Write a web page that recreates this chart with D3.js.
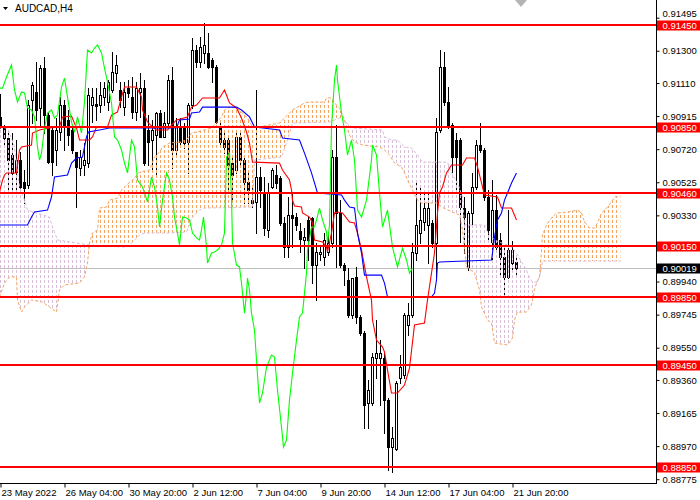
<!DOCTYPE html>
<html><head><meta charset="utf-8">
<script src="https://cdn.jsdelivr.net/npm/d3@7"></script>
<style>
html,body{margin:0;padding:0;background:#fff;}
svg{display:block;}
</style></head><body>
<svg id="c" width="700" height="500"></svg>
<script>
const chartTitle = "AUDCAD,H4";
const openP = [0.90910,0.90851,0.90786,0.90686,0.90585,0.90656,0.90527,0.90509,0.91010,0.91057,
0.90963,0.91198,0.90921,0.90833,0.90715,0.90821,0.90980,0.90892,0.90833,0.90703,
0.90609,0.90627,0.90638,0.90980,0.90986,0.90980,0.91027,0.90998,0.91069,0.91169,
0.91069,0.90968,0.91080,0.91027,0.90939,0.91057,0.91080,0.90833,0.90774,0.90803,
0.90933,0.90792,0.90874,0.91128,0.90715,0.90851,0.90845,0.90762,0.90980,0.91304,
0.91234,0.91287,0.91287,0.91245,0.91204,0.90851,0.90774,0.90774,0.90638,0.90597,
0.90792,0.90656,0.90527,0.90420,0.90409,0.90556,0.90462,0.90244,0.90497,0.90568,
0.90550,0.90285,0.90143,0.90332,0.90320,0.90238,0.90185,0.90303,0.90314,0.90037,
0.90102,0.90085,0.90114,0.90167,0.90674,0.90344,0.90037,0.89949,0.89743,0.89967,
0.89731,0.89637,0.89224,0.89224,0.89489,0.89489,0.89489,0.89242,0.88965,0.88953,
0.89371,0.89389,0.89684,0.89743,0.90108,0.90226,0.90291,0.90273,0.90285,0.90167,
0.90833,0.91204,0.90998,0.90862,0.90774,0.90774,0.90373,0.90026,0.90344,0.90497,
0.90745,0.90715,0.90438,0.90173,0.90361,0.90185,0.90085,0.89967,0.90049,0.90055];
const highP = [0.91045,0.90862,0.90833,0.90815,0.90774,0.90703,0.90597,0.91010,0.91116,0.91234,
0.91216,0.91263,0.90933,0.90845,0.90904,0.91027,0.91010,0.90951,0.90851,0.90703,
0.90715,0.90756,0.91080,0.91080,0.91080,0.91116,0.91116,0.91128,0.91293,0.91275,
0.91116,0.91116,0.91128,0.91145,0.91116,0.91169,0.91128,0.90921,0.90892,0.90939,
0.90951,0.90939,0.91157,0.91204,0.90904,0.90904,0.90874,0.90992,0.91375,0.91334,
0.91381,0.91464,0.91405,0.91257,0.91216,0.90880,0.90815,0.90792,0.90686,0.90815,
0.90815,0.90674,0.90580,0.90497,0.91069,0.90615,0.90556,0.90521,0.90609,0.90627,
0.90562,0.90320,0.90438,0.90462,0.90344,0.90285,0.90255,0.90320,0.90320,0.90167,
0.90143,0.90226,0.90214,0.90715,0.90862,0.90420,0.90049,0.90020,0.89961,0.90026,
0.89743,0.89648,0.89360,0.89519,0.89713,0.89595,0.89519,0.89254,0.89083,0.89354,
0.89507,0.89754,0.89813,0.90167,0.90538,0.90497,0.90468,0.90468,0.90303,0.90904,
0.91304,0.91293,0.91086,0.90874,0.90815,0.90786,0.90438,0.90356,0.90580,0.90774,
0.90874,0.90727,0.90479,0.90538,0.90450,0.90226,0.90137,0.90361,0.90179,0.90079];
const lowP = [0.90845,0.90745,0.90479,0.90462,0.90479,0.90462,0.90403,0.90491,0.90874,0.90892,
0.90862,0.90815,0.90638,0.90568,0.90627,0.90774,0.90715,0.90745,0.90697,0.90379,
0.90568,0.90568,0.90615,0.90880,0.90892,0.90939,0.90980,0.90951,0.91057,0.91116,
0.90968,0.90921,0.91027,0.90904,0.90892,0.90910,0.90627,0.90627,0.90597,0.90568,
0.90792,0.90792,0.90862,0.90609,0.90674,0.90733,0.90727,0.90580,0.90963,0.91204,
0.91204,0.91228,0.91198,0.91116,0.90874,0.90733,0.90697,0.90462,0.90420,0.90580,
0.90615,0.90403,0.90403,0.90379,0.90226,0.90379,0.90214,0.90202,0.90491,0.90491,
0.90273,0.90085,0.90085,0.90143,0.90244,0.90114,0.90020,0.90067,0.89931,0.89831,
0.90067,0.90037,0.90096,0.90143,0.90026,0.90026,0.89920,0.89731,0.89725,0.89696,
0.89625,0.89077,0.89077,0.89212,0.89371,0.89212,0.89047,0.88829,0.88818,0.88947,
0.89342,0.89371,0.89625,0.89731,0.90067,0.90167,0.90244,0.90049,0.90143,0.89949,
0.90821,0.90980,0.90845,0.90585,0.90462,0.90173,0.90108,0.90008,0.90261,0.90485,
0.90703,0.90420,0.90185,0.90067,0.90126,0.89967,0.89861,0.89961,0.90008,0.89978];
const closeP = [0.90851,0.90786,0.90656,0.90580,0.90656,0.90497,0.90491,0.90980,0.91098,0.90951,
0.91198,0.90921,0.90644,0.90644,0.90833,0.90980,0.90851,0.90803,0.90715,0.90615,
0.90674,0.90656,0.91039,0.91027,0.90974,0.91039,0.91080,0.91116,0.91175,0.91216,
0.91010,0.91057,0.91051,0.90939,0.91080,0.91080,0.90638,0.90762,0.90833,0.90933,
0.90792,0.90874,0.91128,0.90715,0.90851,0.90762,0.90756,0.90980,0.91304,0.91234,
0.91322,0.91334,0.91204,0.91204,0.90880,0.90762,0.90733,0.90627,0.90568,0.90792,
0.90656,0.90527,0.90479,0.90403,0.90556,0.90479,0.90255,0.90462,0.90597,0.90521,
0.90285,0.90143,0.90332,0.90314,0.90273,0.90191,0.90202,0.90185,0.90037,0.90114,
0.90114,0.90185,0.90167,0.90674,0.90344,0.90037,0.90008,0.89743,0.89961,0.89731,
0.89637,0.89212,0.89301,0.89495,0.89519,0.89519,0.89242,0.88965,0.89018,0.89342,
0.89436,0.89743,0.89743,0.90114,0.90273,0.90303,0.90373,0.90373,0.90167,0.90821,
0.91204,0.90998,0.90862,0.90674,0.90674,0.90379,0.90320,0.90344,0.90497,0.90745,
0.90715,0.90438,0.90244,0.90361,0.90143,0.90085,0.89967,0.90126,0.90126,0.90019];

// Ichimoku lines: [bar index, price]
const tenkan = [[-0.25,0.90468],[0.5,0.90538],[1,0.90568],[1.5,0.90580],[4,0.90580],[4.75,0.90715],[5.25,0.90733],[7.75,0.90745],[8,0.90815],[9.75,0.90833],[12.25,0.90845],[14.75,0.90851],[15.5,0.90910],[17.75,0.90915],[19,0.90845],[19.75,0.90774],[22.25,0.90774],[23,0.90792],[24,0.90851],[26.75,0.90851],[27.75,0.90921],[29.25,0.90939],[30.25,0.91027],[31,0.91086],[34,0.91086],[35.25,0.91027],[35.5,0.90951],[36.75,0.90880],[38,0.90851],[39,0.90833],[41.75,0.90833],[42.75,0.90862],[44,0.90892],[46.75,0.90910],[47.75,0.90968],[49,0.90980],[50.5,0.91022],[54.75,0.91022],[56,0.91069],[57.25,0.90992],[59,0.90963],[60.25,0.90904],[61.5,0.90821],[62.25,0.90756],[63,0.90644],[69.75,0.90638],[70.5,0.90597],[72.25,0.90538],[72.75,0.90479],[73,0.90420],[73.5,0.90385],[75.25,0.90379],[75.5,0.90344],[77.25,0.90320],[78,0.90285],[78.5,0.90185],[80.5,0.90173],[81.5,0.90143],[81.75,0.90114],[82.75,0.90226],[83.5,0.90344],[84.25,0.90350],[85.5,0.90344],[86.5,0.90314],[87.25,0.90291],[88.5,0.90285],[89.25,0.90226],[90.25,0.90126],[91.5,0.89967],[92.75,0.89831],[93,0.89713],[94,0.89595],[95.5,0.89554],[96,0.89525],[96.75,0.89419],[97.75,0.89283],[99.25,0.89283],[101,0.89330],[102.25,0.89430],[103.5,0.89684],[106,0.89696],[106.75,0.89831],[107.75,0.89990],[108.5,0.90108],[109.25,0.90344],[109.75,0.90462],[110.5,0.90497],[111.5,0.90580],[112.75,0.90627],[115.5,0.90627],[116.5,0.90668],[118.5,0.90668],[119.25,0.90615],[120.25,0.90521],[121,0.90450],[124.25,0.90438],[125.25,0.90373],[127.75,0.90373],[129,0.90303]];
const kijun = [[-0.25,0.90273],[6.75,0.90273],[7.75,0.90320],[8.5,0.90350],[11.75,0.90361],[12.75,0.90438],[13.5,0.90556],[16.75,0.90568],[17.75,0.90638],[19,0.90668],[20.5,0.90674],[21.5,0.90792],[22,0.90821],[24.75,0.90833],[27.25,0.90845],[44,0.90845],[44.75,0.90892],[47.25,0.90898],[47.75,0.90933],[49.75,0.90939],[50.5,0.90968],[59,0.90968],[60.25,0.90951],[62.25,0.90910],[63.5,0.90851],[69.75,0.90833],[70.5,0.90786],[74.75,0.90774],[76,0.90697],[77.75,0.90580],[79.25,0.90462],[85.25,0.90450],[86,0.90420],[87.25,0.90379],[88.5,0.90373],[89.25,0.90226],[90.25,0.90108],[91,0.89978],[95.25,0.89978],[96,0.89931],[96.75,0.89849],[107.75,0.89849],[108.5,0.89872],[109,0.89949],[109.25,0.90049],[109.75,0.90055],[122.75,0.90067],[123,0.90108],[123.5,0.90202],[124.25,0.90303],[125.25,0.90344],[126,0.90420],[126.75,0.90462],[127.75,0.90521],[129,0.90580]];
const chikou = [[-0.25,0.91080],[0.5,0.91080],[1.5,0.91145],[2.75,0.91216],[3.5,0.91069],[4.25,0.90998],[5.25,0.91057],[6,0.91051],[6.75,0.90963],[7.75,0.90951],[8.5,0.90910],[9.25,0.90733],[9.75,0.90656],[10.25,0.90697],[11,0.90845],[11.75,0.90933],[12.75,0.90951],[13.5,0.90904],[14.25,0.90921],[15.25,0.91086],[16,0.91139],[16.75,0.91027],[17.75,0.90880],[18.5,0.90821],[19.25,0.90910],[20.25,0.90815],[21,0.90998],[21.75,0.91304],[22.75,0.91287],[23.5,0.91316],[24.25,0.91334],[25.25,0.91287],[26,0.91198],[26.75,0.91116],[27.75,0.90992],[28.5,0.90792],[29.25,0.90774],[30.25,0.90715],[31,0.90638],[31.75,0.90580],[32.75,0.90774],[33.5,0.90733],[34.25,0.90538],[35.5,0.90497],[36.75,0.90409],[37.75,0.90556],[38.5,0.90497],[39.25,0.90379],[39.75,0.90261],[40.5,0.90420],[41.5,0.90580],[42.25,0.90538],[43,0.90438],[43.5,0.90320],[44.25,0.90226],[44.75,0.90155],[45.5,0.90320],[46.5,0.90314],[47.25,0.90303],[48,0.90226],[49,0.90197],[49.75,0.90185],[50.25,0.90244],[50.75,0.90320],[51.5,0.90143],[51.75,0.90049],[52.75,0.90108],[53.5,0.90114],[54.25,0.90126],[55.25,0.90155],[56,0.90226],[56.5,0.90674],[57.25,0.90697],[57.75,0.90438],[58,0.90167],[59,0.90037],[59.75,0.90026],[60.25,0.89931],[61,0.89754],[61.5,0.89872],[61.75,0.89961],[62.25,0.89890],[62.75,0.89754],[63.5,0.89654],[64.25,0.89389],[64.75,0.89224],[65.5,0.89283],[66.5,0.89436],[67.75,0.89507],[68.5,0.89495],[69.25,0.89301],[70.25,0.89083],[70.75,0.88965],[71.5,0.89006],[72.25,0.89242],[73,0.89401],[74,0.89595],[74.75,0.89731],[75.5,0.89754],[76,0.89872],[76.5,0.89990],[76.75,0.90126],[77.75,0.90261],[78.5,0.90261],[79,0.90303],[79.75,0.90373],[80.5,0.90303],[81.5,0.90232],[81.75,0.90167],[82.25,0.90273],[82.75,0.90851],[83.5,0.91128],[84,0.91216],[84.25,0.91128],[85.25,0.90933],[86,0.90833],[86.75,0.90686],[87.75,0.90774],[88.5,0.90656],[89.25,0.90361],[90.25,0.90320],[91.5,0.90420],[92.75,0.90656],[93,0.90745],[94,0.90686],[94.75,0.90462],[95.5,0.90261],[96.75,0.90361],[98,0.90143],[99.25,0.90026],[100.5,0.90137],[101.5,0.90067],[102.25,0.89990],[103,0.90020]];
const spanA = [[-0.25,0.89849],[1,0.89931],[2.25,0.89967],[4,0.89967],[4.25,0.89831],[5.25,0.89760],[6,0.89790],[7.75,0.89831],[10.5,0.89819],[12.25,0.89790],[14,0.89760],[14.75,0.89890],[16,0.89920],[19.75,0.89931],[21,0.89967],[21.75,0.90049],[22.25,0.90167],[23,0.90226],[24.25,0.90244],[24.75,0.90373],[26.5,0.90379],[27.25,0.90420],[29.25,0.90432],[30.25,0.90479],[31.5,0.90509],[33,0.90538],[34.75,0.90585],[37.25,0.90597],[38.5,0.90674],[39.75,0.90703],[40.5,0.90733],[42.25,0.90756],[44.75,0.90762],[46.5,0.90774],[47.75,0.90815],[51,0.90833],[52.75,0.90845],[54,0.90874],[55.25,0.90910],[56,0.90951],[57.25,0.90968],[59,0.90963],[60.5,0.90933],[61.75,0.90904],[63,0.90851],[64.75,0.90851],[69.75,0.90874],[70.5,0.90892],[71.75,0.90921],[73,0.90951],[76,0.90992],[77.25,0.90998],[81,0.90998],[81.5,0.91022],[82.75,0.91022],[83.5,0.90992],[84.75,0.90963],[86,0.90892],[87.25,0.90803],[88.5,0.90762],[90.5,0.90745],[94.75,0.90733],[96,0.90715],[97.25,0.90686],[98.5,0.90638],[100.25,0.90615],[101,0.90580],[101.75,0.90538],[103,0.90479],[104.25,0.90420],[105.25,0.90403],[109.25,0.90403],[110.25,0.90379],[113.5,0.90344],[114.75,0.90332],[115.5,0.90244],[116.5,0.90026],[118.5,0.89990],[119.75,0.89890],[120.25,0.89790],[121.75,0.89713],[122.75,0.89696],[123.5,0.89578],[126.75,0.89566],[128,0.89607],[128.5,0.89713],[129.25,0.89760],[131.5,0.89760],[132.75,0.89802],[133.5,0.89890],[134,0.89931],[134.75,0.89967],[135.25,0.90126],[135.5,0.90214],[136.5,0.90273],[137.75,0.90314],[139,0.90344],[141.75,0.90350],[144.25,0.90361],[145.25,0.90344],[146,0.90291],[147.25,0.90255],[148.5,0.90255],[149.25,0.90285],[150.25,0.90344],[151,0.90361],[151.75,0.90379],[152.75,0.90409],[153.5,0.90438],[155,0.90444]];
const spanB = [[-0.25,0.90845],[1.75,0.90845],[2.25,0.90815],[3.5,0.90733],[4.75,0.90497],[6,0.90420],[6.75,0.90361],[9,0.90344],[12.25,0.90320],[13,0.90261],[14.25,0.90185],[19,0.90167],[22.25,0.90155],[31,0.90143],[32.25,0.90155],[34.75,0.90214],[36,0.90226],[42.25,0.90226],[46.5,0.90232],[48,0.90320],[49.75,0.90361],[51,0.90373],[63,0.90379],[63.5,0.90656],[70.25,0.90674],[71.75,0.90774],[73,0.90874],[82.25,0.90880],[84.75,0.90904],[87.25,0.90862],[88,0.90845],[95.5,0.90833],[96,0.90792],[97.75,0.90774],[99.25,0.90774],[101,0.90733],[102.75,0.90727],[104.25,0.90686],[105.5,0.90644],[111.75,0.90644],[112.75,0.90580],[114.25,0.90521],[115.5,0.90438],[116,0.90273],[121,0.90273],[121.75,0.90232],[123.5,0.90185],[127.75,0.90143],[129,0.90108],[130.25,0.90055],[131.5,0.90008],[132.25,0.89961],[133,0.89937],[134,0.89937],[134.75,0.89967],[135.25,0.90020],[135.5,0.90061],[155,0.90061]];

const levels = [0.91450,0.90850,0.90460,0.90150,0.89850,0.89450,0.88850];
const currentPrice = 0.90019;
const priceTicks = [0.91495,0.91300,0.91110,0.90915,0.90720,0.90525,0.90330,0.89940,0.89745,0.89550,0.89360,0.89165,0.88970,0.88775];
const timeTickBars = [0,16,32,48,64,80,96,112,128];
const timeTickLabels = ["23 May 2022","26 May 04:00","30 May 20:00","2 Jun 12:00","7 Jun 04:00","9 Jun 20:00","14 Jun 12:00","17 Jun 04:00","21 Jun 20:00"];

const FONT = "'Liberation Sans', Arial, sans-serif";
const PR = 656, PB = 483;
const svg = d3.select("#c");
const x = d3.scaleLinear().domain([0,1]).range([0.5,4.5]);
const y = d3.scaleLinear().domain([0.8885,0.9145]).range([466.5,25.3]);

const defs = svg.append("defs");
defs.append("clipPath").attr("id","plot").append("rect").attr("x",0).attr("y",0).attr("width",PR).attr("height",PB);
function pat(id,color){
  const p = defs.append("pattern").attr("id",id).attr("patternUnits","userSpaceOnUse").attr("width",4).attr("height",5);
  p.append("rect").attr("x",0).attr("y",0).attr("width",1).attr("height",3).attr("fill",color);
}
pat("pA","#F4A460"); pat("pB","#D8BFD8");
const areaDown = d3.area().x(d=>x(d[0])).y0(PB).y1(d=>y(d[1]));
const areaUp = d3.area().x(d=>x(d[0])).y0(0).y1(d=>y(d[1]));
defs.append("clipPath").attr("id","aboveB").append("path").attr("d",areaUp(spanB));
defs.append("clipPath").attr("id","aboveA").append("path").attr("d",areaUp(spanA));

svg.append("rect").attr("width",700).attr("height",500).attr("fill","#fff");
const plot = svg.append("g").attr("clip-path","url(#plot)");

// current price line
const yCur = Math.round(y(currentPrice)) + 0.5;
plot.append("line").attr("x1",0).attr("x2",PR).attr("y1",yCur).attr("y2",yCur)
  .attr("stroke","#C0C0C0").attr("stroke-width",1).attr("shape-rendering","crispEdges");

// candles
const gC = plot.append("g").attr("shape-rendering","crispEdges");
d3.range(openP.length).forEach(i=>{
  const cx = Math.round(x(i)-0.5);
  const yh = Math.round(y(highP[i])), yl = Math.round(y(lowP[i]));
  const yo = Math.round(y(openP[i])), yc = Math.round(y(closeP[i]));
  gC.append("rect").attr("x",cx).attr("y",yh).attr("width",1).attr("height",Math.max(1,yl-yh+1)).attr("fill","#000");
  const t = Math.min(yo,yc), b = Math.max(yo,yc);
  gC.append("rect").attr("x",cx-1).attr("y",t).attr("width",3).attr("height",b-t+1).attr("fill","#000");
  if (closeP[i] > openP[i] && b-t >= 2) {
    gC.append("rect").attr("x",cx).attr("y",t+1).attr("width",1).attr("height",b-t-1).attr("fill","#fff");
  }
});

// cloud
plot.append("g").attr("clip-path","url(#aboveB)")
  .append("path").attr("d",areaDown(spanA)).attr("fill","url(#pA)");
plot.append("g").attr("clip-path","url(#aboveA)")
  .append("path").attr("d",areaDown(spanB)).attr("fill","url(#pB)");
const line = d3.line().x(d=>x(d[0])).y(d=>y(d[1]));
plot.append("path").attr("d",line(spanA)).attr("fill","none").attr("stroke","#F4A460").attr("stroke-width",1).attr("stroke-dasharray","3,2");
plot.append("path").attr("d",line(spanB)).attr("fill","none").attr("stroke","#D8BFD8").attr("stroke-width",1).attr("stroke-dasharray","3,2");

// ichimoku lines
[[tenkan,"#FF0000"],[kijun,"#0000FF"],[chikou,"#00FF00"]].forEach(([d,c])=>{
  plot.append("path").attr("d",line(d)).attr("fill","none").attr("stroke",c).attr("stroke-width",1.1);
});

// horizontal levels
levels.forEach(v=>{
  const yy = Math.round(y(v));
  plot.append("rect").attr("x",0).attr("y",yy-1).attr("width",PR).attr("height",2).attr("fill","#FF0000");
});

// shift marker
svg.append("polygon").attr("points","515,0 527,0 521,7").attr("fill","#B4B4B4");

// frame lines
svg.append("line").attr("x1",PR+0.5).attr("x2",PR+0.5).attr("y1",0).attr("y2",PB+1).attr("stroke","#000");
svg.append("line").attr("x1",0).attr("x2",PR+1).attr("y1",PB+0.5).attr("y2",PB+0.5).attr("stroke","#000");

// right axis
const ra = svg.append("g").attr("transform",`translate(${PR+0.5},0)`)
  .call(d3.axisRight(y).tickValues(priceTicks).tickFormat(d3.format(".5f")).tickSize(3).tickPadding(3));
ra.select(".domain").remove();
ra.selectAll("line").attr("stroke","#000");
ra.selectAll("text").attr("fill","#000").attr("font-family",FONT).attr("font-size","9.5px");
// the top tick label sits just above the 0.91450 box
ra.selectAll(".tick").filter(d=>d===priceTicks[0]).select("text").attr("dy","-0.1em");

// bottom axis
const ba = svg.append("g").attr("transform",`translate(0,${PB+0.5})`)
  .call(d3.axisBottom(x).tickValues(timeTickBars).tickFormat((d,i)=>timeTickLabels[i]).tickSize(4).tickPadding(2));
ba.select(".domain").remove();
ba.selectAll("line").attr("stroke","#000");
ba.selectAll("text").attr("fill","#000").attr("font-family",FONT).attr("font-size","9.5px")
  .attr("text-anchor","start").attr("x",0.5);

// level labels
function priceBox(v, bg){
  const yy = Math.round(y(v));
  svg.append("rect").attr("x",PR+1).attr("y",yy-4.5).attr("width",700-PR-1).attr("height",10).attr("fill",bg);
  svg.append("text").attr("x",PR+6.5).attr("y",yy+3.8).attr("fill","#fff")
    .attr("font-family",FONT).attr("font-size","9.5px").text(d3.format(".5f")(v));
}
levels.forEach(v=>priceBox(v,"#FF0000"));
priceBox(currentPrice,"#000");

// title
svg.append("polygon").attr("points","3,7 8,7 5.5,10").attr("fill","#000");
svg.append("text").attr("x",15).attr("y",12).attr("fill","#000").attr("font-family",FONT).attr("font-size","10px").text(chartTitle);
</script>
</body></html>
